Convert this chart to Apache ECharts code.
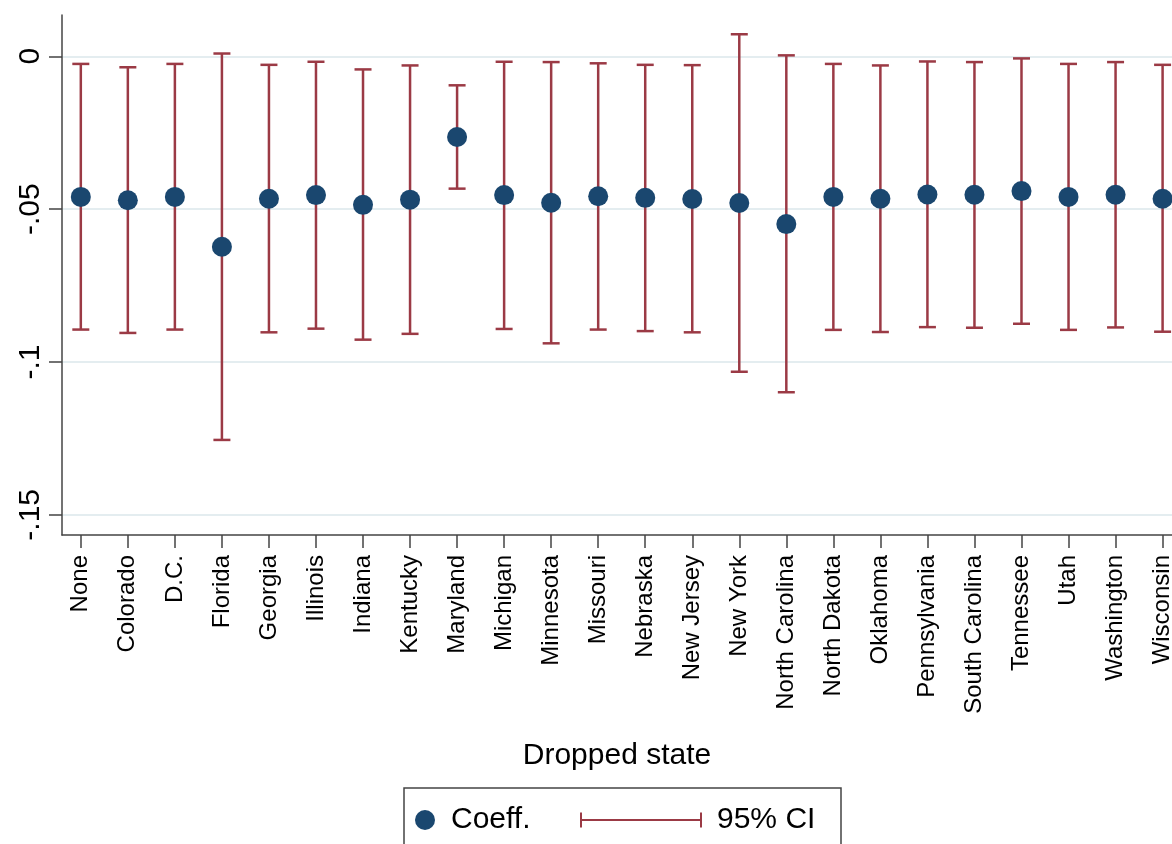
<!DOCTYPE html>
<html><head><meta charset="utf-8">
<script src="https://cdn.jsdelivr.net/npm/echarts@6/dist/echarts.min.js"></script>
<style>html,body{margin:0;padding:0;background:#fff}#c{width:1172px;height:844px}</style>
</head><body><div id="c"></div>
<script>
const states = ['None','Colorado','D.C.','Florida','Georgia','Illinois','Indiana','Kentucky','Maryland','Michigan','Minnesota','Missouri','Nebraska','New Jersey','New York','North Carolina','North Dakota','Oklahoma','Pennsylvania','South Carolina','Tennessee','Utah','Washington','Wisconsin'];
const coef   = [-0.0460,-0.0471,-0.0460,-0.0623,-0.0466,-0.0454,-0.0486,-0.0469,-0.0264,-0.0454,-0.0479,-0.0458,-0.0463,-0.0467,-0.0480,-0.0549,-0.0460,-0.0466,-0.0452,-0.0453,-0.0441,-0.0460,-0.0453,-0.0466];
const ciLow  = [-0.0894,-0.0905,-0.0894,-0.1255,-0.0903,-0.0891,-0.0927,-0.0908,-0.0433,-0.0892,-0.0939,-0.0894,-0.0899,-0.0903,-0.1032,-0.1099,-0.0895,-0.0902,-0.0886,-0.0888,-0.0875,-0.0895,-0.0887,-0.0901];
const ciHigh = [-0.0025,-0.0036,-0.0025,0.0009,-0.0028,-0.0018,-0.0043,-0.0030,-0.0095,-0.0018,-0.0019,-0.0023,-0.0028,-0.0029,0.0072,0.0003,-0.0025,-0.0030,-0.0017,-0.0019,-0.0007,-0.0025,-0.0019,-0.0028];
const yTicks = [0, -0.05, -0.1, -0.15];
const yTickLabels = ['0', '-.05', '-.1', '-.15'];

const xPos = states.map((s, i) => i + 1);
const FONT = 'Liberation Sans, Arial, Helvetica, sans-serif';
const CI_COLOR = '#9b3a45';
const PT_COLOR = '#1a476f';

const chart = echarts.init(document.getElementById('c'), null, {renderer: 'canvas'});
chart.setOption({
  backgroundColor: '#fff',
  animation: false,
  textStyle: {fontFamily: FONT},
  grid: {left: 62, top: 15, right: 0, bottom: 309, containLabel: false, outerBoundsMode: 'none'},
  xAxis: {
    type: 'value', min: 0.6, max: 24.2,
    axisLine: {show: true, onZero: false, lineStyle: {color: '#444', width: 1.5}},
    axisTick: {show: true, customValues: xPos, length: 13, lineStyle: {color: '#444', width: 1.5}},
    axisLabel: {customValues: xPos, rotate: 90, margin: 20, fontSize: 24, color: '#000', fontFamily: FONT,
      formatter: v => states[Math.round(v) - 1] || ''},
    splitLine: {show: false},
    name: 'Dropped state', nameLocation: 'middle', nameGap: 206,
    nameTextStyle: {fontSize: 30, color: '#000', fontFamily: FONT}
  },
  yAxis: {
    type: 'value', min: -0.1566, max: 0.0135,
    axisLine: {show: true, lineStyle: {color: '#444', width: 1.5}},
    axisTick: {show: true, customValues: yTicks, length: 13, lineStyle: {color: '#444', width: 1.5}},
    axisLabel: {customValues: yTicks, rotate: 90, margin: 16, fontSize: 30, color: '#000', fontFamily: FONT,
      formatter: v => { const k = yTicks.findIndex(t => Math.abs(t - v) < 1e-9); return k >= 0 ? yTickLabels[k] : ''; }},
    splitLine: {show: true, lineStyle: {color: '#e4edf0', width: 2}}
  },
  legend: [
    {data: [{name: 'Coeff.', icon: 'circle'}], left: 410, top: 800, itemWidth: 42, itemHeight: 20, itemGap: 10,
      textStyle: {fontSize: 30, color: '#000', fontFamily: FONT}, selectedMode: false},
    {data: [{name: '95% CI', icon: 'path://M0,0 L2,0 L2,6.5 L120,6.5 L120,0 L122,0 L122,15 L120,15 L120,8.5 L2,8.5 L2,15 L0,15 Z M132,0 L132,0.01 Z'}],
      left: 575, top: 800, itemWidth: 132, itemHeight: 15, itemGap: 10,
      textStyle: {fontSize: 30, color: '#000', fontFamily: FONT}, selectedMode: false}
  ],
  graphic: [{type: 'rect', shape: {x: 404, y: 788, width: 437, height: 80}, style: {fill: 'none', stroke: '#444', lineWidth: 1.5}, silent: true}],
  series: [
    {
      name: '95% CI', type: 'custom',
      itemStyle: {color: CI_COLOR},
      data: xPos.map((x, i) => [x, ciLow[i], ciHigh[i]]),
      encode: {x: 0, y: [1, 2]},
      renderItem: (params, api) => {
        const x = api.value(0);
        const lo = api.coord([x, api.value(1)]);
        const hi = api.coord([x, api.value(2)]);
        const hw = 8.5;
        const st = {stroke: CI_COLOR, lineWidth: 2.5};
        return {type: 'group', children: [
          {type: 'line', shape: {x1: lo[0], y1: lo[1], x2: hi[0], y2: hi[1]}, style: st},
          {type: 'line', shape: {x1: lo[0] - hw, y1: lo[1], x2: lo[0] + hw, y2: lo[1]}, style: st},
          {type: 'line', shape: {x1: hi[0] - hw, y1: hi[1], x2: hi[0] + hw, y2: hi[1]}, style: st}
        ]};
      },
      z: 2
    },
    {
      name: 'Coeff.', type: 'scatter', symbol: 'circle', symbolSize: 20,
      itemStyle: {color: PT_COLOR, opacity: 1},
      data: xPos.map((x, i) => [x, coef[i]]),
      z: 3
    }
  ]
});
</script></body></html>
